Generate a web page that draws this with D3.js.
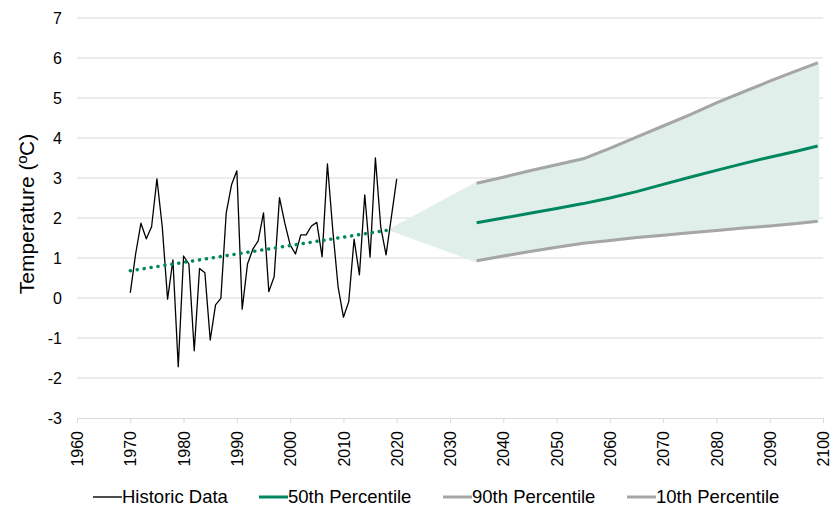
<!DOCTYPE html>
<html>
<head>
<meta charset="utf-8">
<script src="https://cdn.jsdelivr.net/npm/d3@7"></script>
<style>
  body { margin: 0; background: #fff; }
  svg { font-family: "Liberation Sans", Arial, sans-serif; }
</style>
</head>
<body>
<svg id="chart"></svg>
<script>
// historic annual temps, 1970-2020
const histYears = d3.range(1970, 2021);
const histValues = [
  0.13, 1.1, 1.87, 1.48, 1.78, 2.98, 1.78, -0.03, 0.95, -1.72,
  1.05, 0.85, -1.32, 0.74, 0.63, -1.05, -0.17, -0.01, 2.12, 2.83,
  3.18, -0.28, 0.85, 1.22, 1.43, 2.13, 0.16, 0.53, 2.51, 1.87,
  1.33, 1.1, 1.58, 1.58, 1.8, 1.89, 1.03, 3.35, 1.7, 0.28,
  -0.48, -0.09, 1.47, 0.58, 2.58, 1.02, 3.5, 1.78, 1.08, 2.03,
  2.98
];

// linear trend of the historic data (dotted)
const trendYears = [1970, 2019];
const trendValues = [0.68, 1.71];

// projections
const projYears = [2035, 2040, 2045, 2050, 2055, 2060, 2065, 2070, 2075, 2080, 2085, 2090, 2095, 2099];
const p90 = [2.87, 3.02, 3.18, 3.33, 3.48, 3.74, 4.02, 4.30, 4.58, 4.88, 5.15, 5.42, 5.68, 5.88];
const p50 = [1.88, 2.00, 2.12, 2.24, 2.36, 2.50, 2.66, 2.84, 3.02, 3.19, 3.36, 3.52, 3.67, 3.80];
const p10 = [0.93, 1.05, 1.16, 1.27, 1.37, 1.44, 1.51, 1.57, 1.63, 1.69, 1.75, 1.80, 1.86, 1.92];

const xTicks = d3.range(1960, 2101, 10);
const yTicks = d3.range(-3, 8, 1);

const legendItems = [
  {label: "Historic Data", color: "#000000", width: 1.4, x: 93},
  {label: "50th Percentile", color: "#00875f", width: 3, x: 259},
  {label: "90th Percentile", color: "#a6a6a6", width: 3, x: 443},
  {label: "10th Percentile", color: "#a6a6a6", width: 3, x: 627}
];

const width = 836, height = 508;
const green = "#00875f", grey = "#a6a6a6", bandFill = "#e0efea", gridCol = "#d9d9d9";

const svg = d3.select("#chart").attr("width", width).attr("height", height);

const x = d3.scaleLinear().domain([1960, 2100]).range([77, 823]);
const y = d3.scaleLinear().domain([-3, 7]).range([418, 18]);

// gridlines
svg.append("g")
  .selectAll("line")
  .data(yTicks.filter(d => d > -3))
  .join("line")
  .attr("x1", x(1960)).attr("x2", x(2100))
  .attr("y1", d => y(d)).attr("y2", d => y(d))
  .attr("stroke", gridCol).attr("stroke-width", 1);

// y labels
svg.append("g")
  .selectAll("text")
  .data(yTicks)
  .join("text")
  .attr("x", 62)
  .attr("y", d => y(d))
  .attr("dy", "0.35em")
  .attr("text-anchor", "end")
  .attr("font-size", 16)
  .attr("fill", "#000")
  .text(d => d);

// x axis
const xAxis = svg.append("g")
  .attr("transform", `translate(0,${y(-3)})`)
  .call(d3.axisBottom(x).tickValues(xTicks).tickFormat(d3.format("d")).tickSizeInner(5).tickSizeOuter(0));
xAxis.select(".domain").attr("stroke", gridCol);
xAxis.selectAll(".tick line").attr("stroke", gridCol);
xAxis.selectAll(".tick text")
  .attr("font-family", "Liberation Sans, Arial, sans-serif")
  .attr("font-size", 16)
  .attr("fill", "#000")
  .attr("transform", "rotate(-90)")
  .attr("text-anchor", "end")
  .attr("x", -13)
  .attr("y", 0)
  .attr("dy", "0.35em");

// y title
svg.append("text")
  .attr("transform", `translate(34,${y(2.1)}) rotate(-90)`)
  .attr("text-anchor", "middle")
  .attr("font-size", 21)
  .attr("fill", "#000")
  .text("Temperature (ºC)");

// shaded range: from end of trend, widening to the projection envelope
const bandData = [{yr: trendYears[1], hi: trendValues[1], lo: trendValues[1]}]
  .concat(projYears.map((yr, i) => ({yr: yr, hi: p90[i], lo: p10[i]})));

svg.append("path")
  .datum(bandData)
  .attr("fill", bandFill)
  .attr("stroke", bandFill)
  .attr("stroke-width", 3)
  .attr("stroke-linejoin", "round")
  .attr("d", d3.area().x(d => x(d.yr)).y0(d => y(d.lo)).y1(d => y(d.hi)));

// projection lines
const projLine = vals => d3.line().x((d, i) => x(projYears[i])).y(d => y(d))(vals);
[[p90, grey], [p10, grey], [p50, green]].forEach(([vals, col]) => {
  svg.append("path")
    .attr("d", projLine(vals))
    .attr("fill", "none")
    .attr("stroke", col)
    .attr("stroke-width", 3);
});

// historic line
svg.append("path")
  .attr("d", d3.line().x((d, i) => x(histYears[i])).y(d => y(d))(histValues))
  .attr("fill", "none")
  .attr("stroke", "#000")
  .attr("stroke-width", 1.3)
  .attr("stroke-linejoin", "round");

// dotted trend
svg.append("path")
  .attr("d", d3.line().x((d, i) => x(trendYears[i])).y(d => y(d))(trendValues))
  .attr("fill", "none")
  .attr("stroke", green)
  .attr("stroke-width", 3.5)
  .attr("stroke-linecap", "round")
  .attr("stroke-dasharray", "0.1 6.9");

// legend
const lg = svg.append("g").attr("transform", "translate(0,497)");
const item = lg.selectAll("g").data(legendItems).join("g")
  .attr("transform", d => `translate(${d.x},0)`);
item.append("line")
  .attr("x1", 0).attr("x2", 29).attr("y1", 0).attr("y2", 0)
  .attr("stroke", d => d.color)
  .attr("stroke-width", d => d.width);
item.append("text")
  .attr("x", 29)
  .attr("dy", "0.35em")
  .attr("font-size", 18.5)
  .attr("fill", "#000")
  .text(d => d.label);
</script>
</body>
</html>
